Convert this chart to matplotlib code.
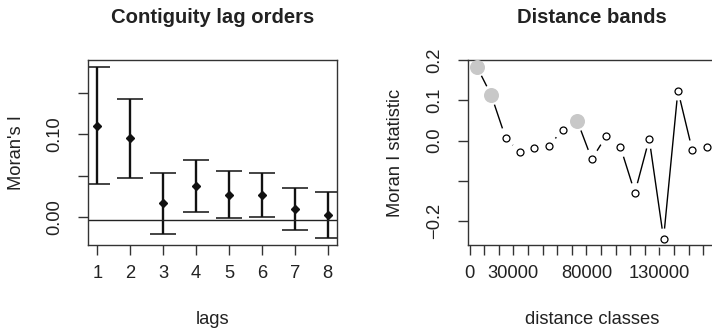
import numpy as np
import matplotlib.pyplot as plt

plt.rcParams['font.family'] = ['Liberation Sans', 'DejaVu Sans']

# contiguity lag orders
lags = [1, 2, 3, 4, 5, 6, 7, 8]
moran_i = [0.1105, 0.0952, 0.0165, 0.0375, 0.0270, 0.0266, 0.0097, 0.0020]
ci_low = [0.0395, 0.0476, -0.0206, 0.0056, -0.0016, 0.0000, -0.0160, -0.0258]
ci_high = [0.1820, 0.1427, 0.0536, 0.0694, 0.0552, 0.0532, 0.0355, 0.0302]
expected_i = -0.0036

# distance bands
dist_mid = [5030, 14860, 24690, 34510, 44340, 54170, 64000, 73830, 83660,
            93490, 103320, 113150, 122980, 132810, 142640, 152470, 162300]
dist_i = [0.1830, 0.1126, 0.0066, -0.0290, -0.0182, -0.0133, 0.0265, 0.0480,
          -0.0464, 0.0108, -0.0166, -0.1300, 0.0041, -0.2435, 0.1242, -0.0240, -0.0157]
signif = [True, True, False, False, False, False, False, True,
          False, False, False, False, False, False, False, False, False]

dist_ticks = list(range(0, 170000, 10000))
dist_labels = {0: '0', 30000: '30000', 80000: '80000', 130000: '130000'}

txt = '#222222'
fs = 13.2

fig = plt.figure(figsize=(7.12, 3.29), dpi=100)
W, H = 712, 329

def axes_px(left, right, top, bottom):
    return fig.add_axes([left / W, 1 - bottom / H, (right - left) / W, (bottom - top) / H])

# ---------- left panel ----------
ax1 = axes_px(88, 337, 60, 245)
mi = np.array(moran_i)
yerr = [mi - np.array(ci_low), np.array(ci_high) - mi]
ax1.errorbar(lags, mi, yerr=yerr, fmt='D', color='#111111', ms=4.2,
             elinewidth=1.7, capsize=9.4, capthick=1.1)
ax1.axhline(expected_i, color='#222222', lw=1.0)
ax1.set_xlim(0.72, 8.28)
ax1.set_ylim(-0.0341, 0.1903)
ax1.set_xticks(lags)
ax1.set_xticklabels([str(l) for l in lags])
ax1.set_yticks([0.0, 0.05, 0.10, 0.15])
ax1.set_yticklabels(['0.00', '', '0.10', ''])

ax1.text(0.5, 1.232, 'Contiguity lag orders', transform=ax1.transAxes,
         ha='center', va='center', fontsize=14.6, fontweight='bold', color=txt)
ax1.set_xlabel('lags', fontsize=fs, color=txt, va='center')
ax1.xaxis.set_label_coords(0.5, -0.405)
ax1.set_ylabel("Moran's I", fontsize=fs, color=txt, ha='center', va='center')
ax1.yaxis.set_label_coords(-0.286, 0.5)

# ---------- right panel ----------
ax2 = axes_px(467.7, 716.5, 60, 245)
ax2.plot(dist_mid, dist_i, color='black', lw=1.0, zorder=2)
# white halos give the gaps of an R type="b" plot
ax2.scatter(dist_mid, dist_i, s=(20 * 0.72) ** 2, color='white', zorder=2.2,
            edgecolors='none', clip_on=False)
dm = np.array(dist_mid)
di = np.array(dist_i)
sg = np.array(signif)
ax2.plot(dm[~sg], di[~sg], 'o', ms=5.0, mfc='white', mec='black', mew=0.9,
         zorder=3, clip_on=False)
ax2.plot(dm[sg], di[sg], 'o', ms=10.8, mfc='#c8c8c8', mec='none',
         zorder=3, clip_on=False)
ax2.set_xlim(-1280, 169050)
ax2.set_ylim(-0.2596, 0.2)
ax2.set_xticks(dist_ticks)
ax2.set_xticklabels([dist_labels.get(t, '') for t in dist_ticks])
ax2.set_yticks([-0.2, -0.1, 0.0, 0.1, 0.2])
ax2.set_yticklabels(['\u22120.2', '', '0.0', '0.1', '0.2'])

ax2.text(0.5, 1.232, 'Distance bands', transform=ax2.transAxes,
         ha='center', va='center', fontsize=14.6, fontweight='bold', color=txt)
ax2.set_xlabel('distance classes', fontsize=fs, color=txt, va='center')
ax2.xaxis.set_label_coords(0.5, -0.405)
ax2.set_ylabel('Moran I statistic', fontsize=fs, color=txt, ha='center', va='center')
ax2.yaxis.set_label_coords(-0.292, 0.5)

for ax in (ax1, ax2):
    for sp in ax.spines.values():
        sp.set_color('#333333')
        sp.set_linewidth(1.0)
    ax.tick_params(axis='both', length=7.5, width=1.0, color='#333333',
                   labelsize=fs, labelcolor=txt)
    ax.tick_params(axis='x', pad=7)
    ax.tick_params(axis='y', pad=10, labelrotation=90)
    for lab in ax.get_yticklabels():
        lab.set_va('center')

fig.savefig('out.png', dpi=100)
